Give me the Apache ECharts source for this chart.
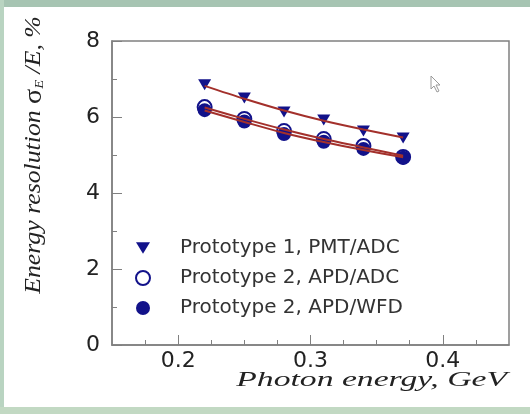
<!DOCTYPE html>
<html lang="en">
<head>
	<meta charset="UTF-8">
	<title>Energy resolution</title>
	<style>
	body, div {
		margin: 0;
		padding: 0;
	}
	#chart {
		width: 530px;
		height: 414px;
		background: #fff;
	}
	</style>
</head>
<body>
	<div id="chart"></div>

	<script src="https://cdn.jsdelivr.net/npm/echarts@6/dist/echarts.min.js"></script>
	<script>

	// photon energies, GeV
	var energy = [0.22, 0.25, 0.28, 0.31, 0.34, 0.37];

	// measured resolution, %
	var pmtAdc = [6.85, 6.50, 6.13, 5.92, 5.63, 5.45];
	var apdAdc = [6.26, 5.95, 5.63, 5.42, 5.24, 4.95];
	var apdWfd = [6.18, 5.88, 5.55, 5.35, 5.16, 4.93];

	// fitted curves
	var fitPmtAdc = [6.82, 6.48, 6.17, 5.90, 5.67, 5.46];
	var fitApdAdc = [6.25, 5.95, 5.67, 5.42, 5.20, 4.98];
	var fitApdWfd = [6.17, 5.87, 5.58, 5.34, 5.13, 4.94];

	var names = ['Prototype 1, PMT/ADC', 'Prototype 2, APD/ADC', 'Prototype 2, APD/WFD'];

	// ticks
	var xMajor = [0.2, 0.3, 0.4];
	var xMinor = [0.175, 0.225, 0.25, 0.275, 0.325, 0.35, 0.375, 0.425];

	var blue = '#12128a';
	var red = '#a3302b';
	var axisGray = '#808080';
	var triangle = 'path://M0,0 L12,0 L6,10 Z';

	function pairs(xs, ys) {
		var out = [];
		for (var i = 0; i < xs.length; i++) out.push([xs[i], ys[i]]);
		return out;
	}

	function fitLine(ys) {
		return {
			type: 'line',
			data: pairs(energy, ys),
			smooth: 0.3,
			showSymbol: false,
			silent: true,
			z: 5,
			lineStyle: { color: red, width: 2 }
		};
	}

	var chart = echarts.init(document.getElementById('chart'));

	chart.setOption({
		animation: false,
		grid: {
			left: 112, right: 21, top: 41, bottom: 69,
			show: true,
			borderColor: axisGray,
			borderWidth: 1.5
		},
		legend: {
			orient: 'vertical',
			left: 130,
			top: 233,
			itemWidth: 14,
			itemHeight: 14,
			itemGap: 10,
			data: [
				{ name: names[0], icon: triangle },
				{ name: names[1], icon: 'emptyCircle' },
				{ name: names[2], icon: 'circle' }
			],
			formatter: function (name) { return '{g|}' + name; },
			textStyle: {
				fontFamily: 'DejaVu Sans',
				fontSize: 20,
				color: '#333',
				lineHeight: 20,
				rich: { g: { width: 25 } }
			}
		},
		xAxis: [{
			type: 'value',
			min: 0.15,
			max: 0.45,
			axisLine: { lineStyle: { color: axisGray, width: 1.5 } },
			axisTick: { inside: true, length: 10, customValues: xMajor, lineStyle: { color: axisGray } },
			axisLabel: {
				customValues: xMajor,
				margin: 5,
				fontFamily: 'DejaVu Sans',
				fontSize: 22,
				color: '#222',
				formatter: function (v) { return v.toFixed(1); }
			},
			splitLine: { show: false }
		}, {
			type: 'value',
			min: 0.15,
			max: 0.45,
			position: 'bottom',
			axisLine: { show: false },
			axisTick: { inside: true, length: 5, customValues: xMinor, lineStyle: { color: axisGray } },
			axisLabel: { show: false },
			splitLine: { show: false }
		}],
		yAxis: {
			type: 'value',
			min: 0,
			max: 8,
			interval: 2,
			axisLine: { show: true, lineStyle: { color: axisGray, width: 1.5 } },
			axisTick: { inside: true, length: 10, lineStyle: { color: axisGray } },
			minorTick: { show: true, splitNumber: 2, length: 5, lineStyle: { color: axisGray } },
			axisLabel: {
				margin: 12,
				fontFamily: 'DejaVu Sans',
				fontSize: 22,
				color: '#222'
			},
			splitLine: { show: false }
		},
		series: [
			{
				name: names[0],
				type: 'scatter',
				symbol: triangle,
				symbolSize: [13, 11],
				itemStyle: { color: blue, opacity: 1 },
				data: pairs(energy, pmtAdc)
			},
			{
				name: names[1],
				type: 'scatter',
				symbol: 'emptyCircle',
				symbolSize: 14,
				itemStyle: { color: blue, borderWidth: 2, opacity: 1 },
				data: pairs(energy, apdAdc)
			},
			{
				name: names[2],
				type: 'scatter',
				symbol: 'circle',
				symbolSize: 14,
				itemStyle: { color: blue, opacity: 1 },
				data: pairs(energy, apdWfd)
			},
			fitLine(fitPmtAdc),
			fitLine(fitApdAdc),
			fitLine(fitApdWfd)
		],
		graphic: [
			// green frame of the slide
			{ type: 'rect', left: 0, top: 0, shape: { width: 530, height: 7 }, style: { fill: '#a6c4b2' }, silent: true },
			{ type: 'rect', left: 0, top: 0, shape: { width: 4, height: 414 }, style: { fill: '#b9d4c1' }, silent: true },
			{ type: 'rect', left: 0, top: 407, shape: { width: 530, height: 7 }, style: { fill: '#c2d9c3' }, silent: true },
			// axis names
			{
				type: 'text',
				x: 507,
				y: 380,
				scaleX: 1.53,
				style: {
					text: 'Photon energy, GeV',
					fontFamily: 'Liberation Serif',
					fontStyle: 'italic',
					fontSize: 22,
					fill: '#222',
					align: 'right',
					verticalAlign: 'middle'
				}
			},
			{
				type: 'text',
				x: 34,
				y: 155,
				rotation: Math.PI / 2,
				scaleX: 1.12,
				style: {
					text: '{i|Energy resolution }{s|σ}{sub|E}{i| /E, %}',
					align: 'center',
					verticalAlign: 'middle',
					fill: '#222',
					rich: {
						i: { fontFamily: 'Liberation Serif', fontStyle: 'italic', fontSize: 23, fill: '#222' },
						s: { fontFamily: 'Liberation Serif', fontSize: 25, fill: '#222' },
						sub: { fontFamily: 'Liberation Serif', fontStyle: 'italic', fontSize: 13, fill: '#222', padding: [12, 0, 0, 0] }
					}
				}
			},
			// mouse pointer left on the slide
			{
				type: 'polygon',
				silent: true,
				shape: { points: [[431, 76], [431, 89], [434, 86], [437, 92], [439, 91], [436, 85], [440, 85]] },
				style: { fill: '#fff', stroke: '#999', lineWidth: 1 }
			}
		]
	});

	</script>
</body>
</html>
